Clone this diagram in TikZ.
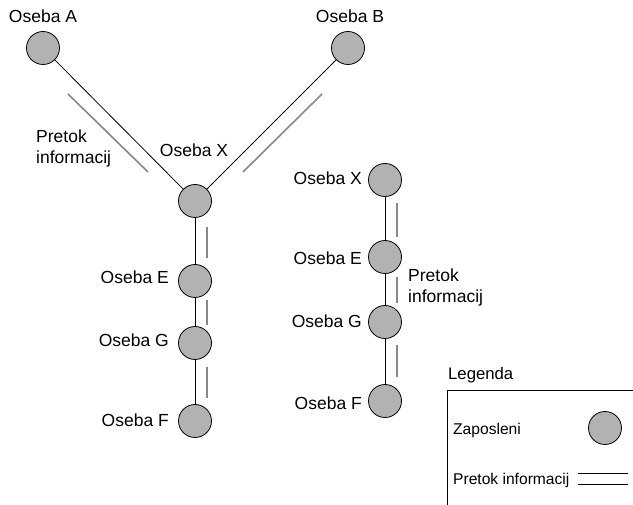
\documentclass[tikz,border=0pt]{standalone}
\usepackage{fontspec}
\setmainfont{Liberation Sans}
\definecolor{tokgray}{RGB}{136,136,136}
\begin{document}
\begin{tikzpicture}[x=1pt,y=-1pt,
  oseba/.style={circle,draw,fill=gray!60,minimum size=33pt,inner sep=0pt,line width=0.8pt},
  povezava/.style={line width=0.8pt},
  pretok/.style={line width=1.6pt,draw=tokgray},
  napis/.style={inner sep=0pt,font=\fontsize{17.5}{21}\selectfont},
  legnapis/.style={inner sep=0pt,font=\fontsize{15.6}{19}\selectfont}]
\useasboundingbox (0,0) rectangle (633,505);

% Employees (left structure)
\node[oseba] (A) at (43,48) {};
\node[oseba] (B) at (348,48) {};
\node[oseba] (X) at (195,201) {};
\foreach \n/\y in {E/281,G/343,F/421}
  \node[oseba] (\n) at (195,\y) {};

% Employees (right chain)
\foreach \n/\y in {X/180,E/257,G/322,F/401}
  \node[oseba] (r\n) at (385,\y) {};

% Names
\node[napis,anchor=base] (lA) at (43,23) {Oseba A};
\node[napis,anchor=base] (lB) at (350,23) {Oseba B};
\node[napis,anchor=base] (lX) at (194,157) {Oseba X};
\foreach \n/\y in {E/284,G/346.5,F/426.5}
  \node[napis,anchor=base east] (l\n) at (169,\y) {Oseba \n};
\foreach \n/\y in {X/185,E/265,G/328,F/410}
  \node[napis,anchor=base east] (lr\n) at (362,\y) {Oseba \n};

% Connections
\draw[povezava] (A) -- (X);
\draw[povezava] (B) -- (X);
\draw[povezava] (X) -- (E) -- (G) -- (F);
\draw[povezava] (rX) -- (rE) -- (rG) -- (rF);

% Information flow
\coordinate (pA1) at (68,94);
\coordinate (pA2) at (148,172);
\coordinate (pB1) at (322,94);
\coordinate (pB2) at (243,172);
\draw[pretok] (pA1) -- (pA2);
\draw[pretok] (pB1) -- (pB2);
\foreach \a/\b [count=\i] in {227/258,300/325,367/398} {
  \coordinate (pm\i a) at (207,\a);
  \coordinate (pm\i b) at (207,\b);
  \draw[pretok] (pm\i a) -- (pm\i b);
}
\foreach \a/\b [count=\i] in {203/237,277/303,345/377} {
  \coordinate (pr\i a) at (397,\a);
  \coordinate (pr\i b) at (397,\b);
  \draw[pretok] (pr\i a) -- (pr\i b);
}
\node[napis,anchor=base west,align=left] (tokL) at (36,164) {Pretok\\informacij};
\node[napis,anchor=base west,align=left] (tokR) at (408,303) {Pretok\\informacij};

% Legend
\node[anchor=base west,inner sep=0pt,font=\fontsize{16.7}{20}\selectfont] (leg) at (448,380) {Legenda};
\draw[povezava] (447,505) -- (447,390) -- (633,390);
\node[legnapis,anchor=base west] (legZ) at (453,435) {Zaposleni};
\node[oseba] (legO) at (605,428) {};
\node[legnapis,anchor=base west] (legP) at (453,485) {Pretok informacij};
\coordinate (d1) at (578,473);
\coordinate (d2) at (628,473);
\coordinate (d3) at (578,484);
\coordinate (d4) at (628,484);
\draw[povezava] (d1) -- (d2);
\draw[povezava] (d3) -- (d4);

\end{tikzpicture}
\end{document}
